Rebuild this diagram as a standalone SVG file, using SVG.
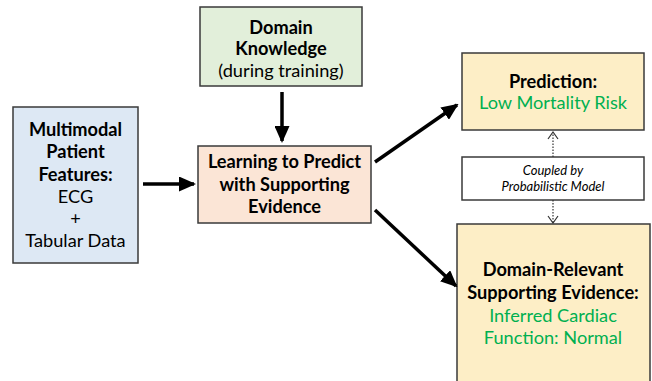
<svg xmlns="http://www.w3.org/2000/svg" width="652" height="381" viewBox="0 0 652 381">
  <style>
    .box { stroke: #3a3a3a; stroke-width: 1.5; }
    .t { font-family: Lato, "Liberation Sans", sans-serif; font-size: 18.2px; text-anchor: middle; fill: #000; }
    .b { font-weight: bold; }
    .g { fill: #00b050; }
    .i { font-family: Lato, "Liberation Sans", sans-serif; font-size: 13px; font-style: italic; text-anchor: middle; fill: #000; }
    .arr { stroke: #000; stroke-width: 3.5; fill: none; marker-end: url(#head); }
    .dot { stroke: #333; stroke-width: 1.2; stroke-dasharray: 1.5 1.5; fill: none; }
    .chev { stroke: #333; stroke-width: 1.2; fill: none; }
  </style>
  <defs>
    <marker id="head" markerUnits="userSpaceOnUse" markerWidth="17" markerHeight="15" refX="15" refY="7.5" orient="auto">
      <path d="M0,0 L17,7.5 L0,15 Z" fill="#000"/>
    </marker>
  </defs>
  <rect width="652" height="381" fill="#fff"/>

  <g id="patient-features">
    <rect class="box" x="13" y="107" width="125" height="156" fill="#dde8f4"/>
    <text class="t b" x="75.5" y="136">Multimodal</text>
    <text class="t b" x="75.5" y="158">Patient</text>
    <text class="t b" x="75.5" y="181">Features:</text>
    <text class="t" x="75.5" y="203">ECG</text>
    <text class="t" x="75.5" y="225">+</text>
    <text class="t" x="75.5" y="247">Tabular Data</text>
  </g>

  <g id="domain-knowledge">
    <rect class="box" x="200" y="7" width="162" height="79" fill="#e2efda"/>
    <text class="t b" x="281" y="34">Domain</text>
    <text class="t b" x="281" y="55">Knowledge</text>
    <text class="t" x="281" y="77">(during training)</text>
  </g>

  <g id="learning">
    <rect class="box" x="198" y="146" width="173" height="77" fill="#fbe5d6"/>
    <text class="t b" x="284.5" y="168">Learning to Predict</text>
    <text class="t b" x="284.5" y="191">with Supporting</text>
    <text class="t b" x="284.5" y="213">Evidence</text>
  </g>

  <g id="prediction">
    <rect class="box" x="462" y="53" width="182" height="77" fill="#fdeec6"/>
    <text class="t b" x="553" y="88">Prediction:</text>
    <text class="t g" x="553" y="109">Low Mortality Risk</text>
  </g>

  <g id="coupling">
    <rect class="box" x="462" y="157" width="182" height="43" fill="#fff" stroke-width="1"/>
    <text class="i" x="553" y="175">Coupled by</text>
    <text class="i" x="553" y="191">Probabilistic Model</text>
  </g>

  <g id="evidence">
    <rect class="box" x="457" y="224" width="193" height="162" fill="#fdeec6"/>
    <text class="t b" x="553" y="276">Domain-Relevant</text>
    <text class="t b" x="553" y="299">Supporting Evidence:</text>
    <text class="t g" x="553" y="322">Inferred Cardiac</text>
    <text class="t g" x="553" y="344">Function: Normal</text>
  </g>

  <g id="connectors">
    <line class="arr" x1="143" y1="184" x2="194" y2="184"/>
    <line class="arr" x1="282" y1="92" x2="282" y2="141"/>
    <line class="arr" x1="375" y1="162" x2="457" y2="105"/>
    <line class="arr" x1="375" y1="210" x2="456" y2="286"/>
    <line class="dot" x1="553" y1="157" x2="553" y2="133"/>
    <path class="chev" d="M548,139 L553,132 L558,139"/>
    <line class="dot" x1="553" y1="200" x2="553" y2="223"/>
    <path class="chev" d="M548,216 L553,223 L558,216"/>
  </g>
</svg>
